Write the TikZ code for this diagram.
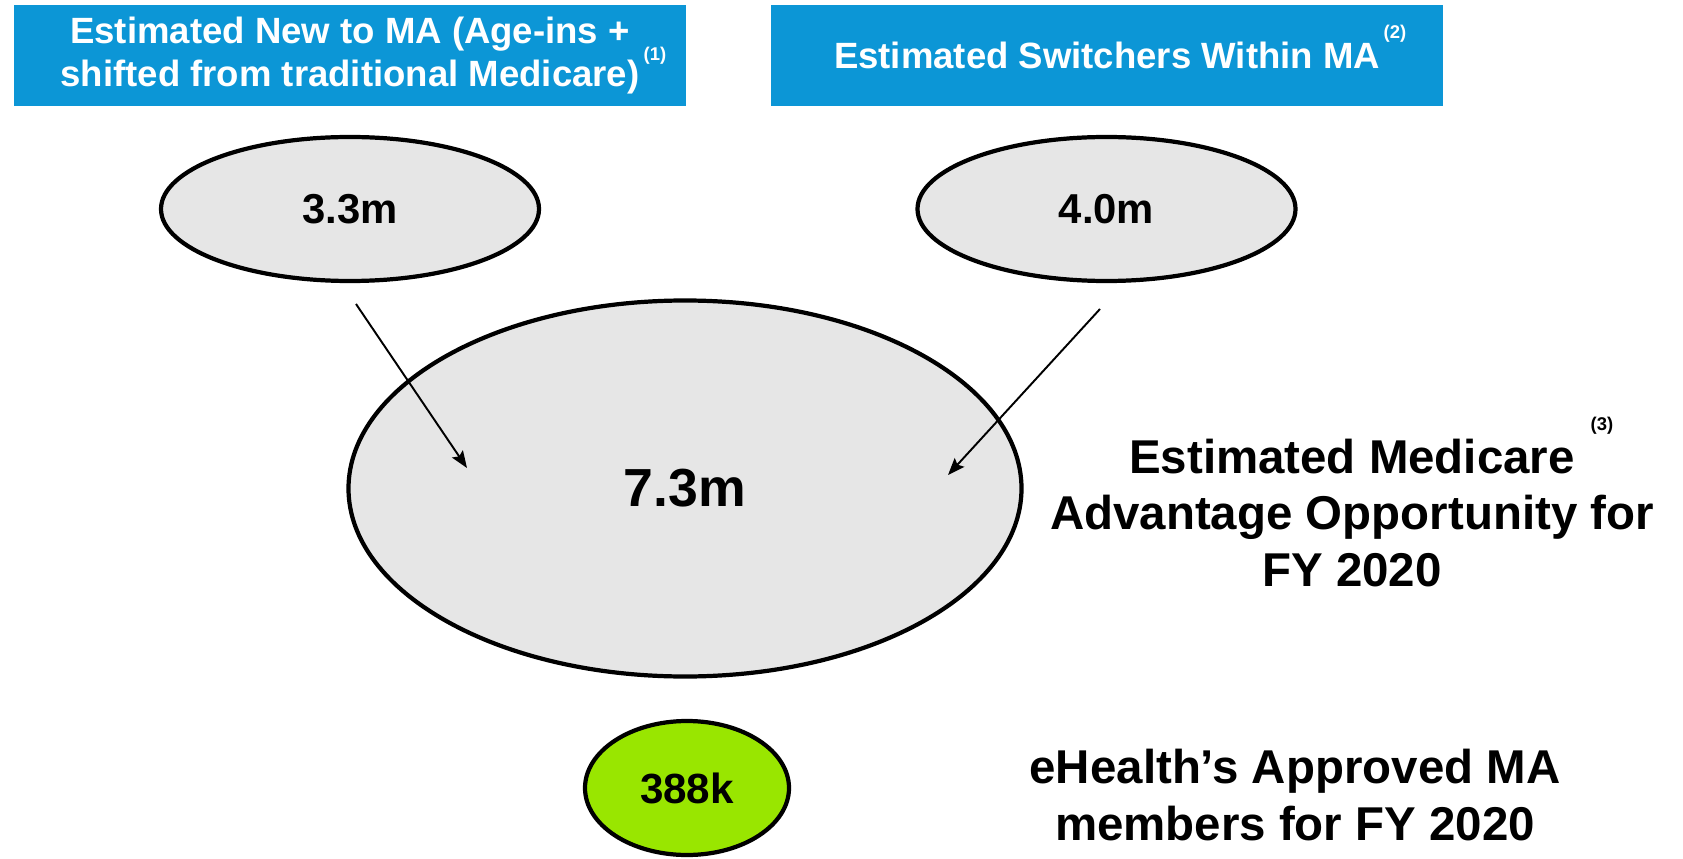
\documentclass[tikz,border=0pt]{standalone}
\usepackage{fontspec}
\setmainfont{Liberation Sans}
\usetikzlibrary{shapes.geometric,arrows.meta,positioning}
\definecolor{boxblue}{RGB}{12,150,214}
\definecolor{bubblegray}{RGB}{230,230,230}
\definecolor{limegreen}{RGB}{153,230,0}

\begin{document}
\begin{tikzpicture}[
    header/.style={rectangle, fill=boxblue, text=white, font=\bfseries\fontsize{20.8}{24.5}\selectfont, align=center, minimum width=13.44cm, minimum height=2.02cm, inner sep=0pt},
    bubble/.style={ellipse, draw, line width=2.4pt, fill=bubblegray, inner sep=0pt},
    caption/.style={font=\bfseries\fontsize{27}{32.4}\selectfont, align=center},
    note/.style={font=\bfseries\fontsize{10.5}{10.5}\selectfont, inner sep=0pt},
    arrow/.style={line width=1.1pt, -{Stealth[length=0.34cm, width=0.26cm, inset=0.06cm]}}
]
    \useasboundingbox (0,0) rectangle (33.66,-17.18);

    % Headers
    \node [header] (newbox) at (7.0,-1.11) {Estimated New to MA (Age-ins +\\shifted from traditional Medicare)};
    \node [header] (switchbox) at (22.14,-1.11) {Estimated Switchers Within MA};
    \node [note, text=white] (sup1) at (13.1,-1.12) {(1)};
    \node [note, text=white] (sup2) at (27.9,-0.68) {(2)};

    % Bubbles
    \node [bubble, minimum width=7.56cm, minimum height=2.88cm, font=\bfseries\fontsize{23.8}{27}\selectfont] (newmembers) at (7.0,-4.18) {3.3m};
    \node [bubble, minimum width=7.56cm, minimum height=2.88cm, font=\bfseries\fontsize{23.8}{27}\selectfont] (switchers) at (22.13,-4.18) {4.0m};
    \node [bubble, minimum width=13.46cm, minimum height=7.52cm, font=\bfseries\fontsize{30.5}{35}\selectfont] (total) at (13.7,-9.77) {7.3m};
    \node [bubble, fill=limegreen, minimum width=4.08cm, minimum height=2.68cm, font=\bfseries\fontsize{24}{28}\selectfont] (ehealth) at (13.74,-15.76) {388k};

    % Captions
    \node [caption] (opportunity) at (27.04,-10.26) {Estimated Medicare\\Advantage Opportunity for\\FY 2020};
    \node [note] (sup3) at (32.04,-8.52) {(3)};
    \node [caption] (approved) at (25.9,-15.9) {eHealth’s Approved MA\\members for FY 2020};

    % Arrows
    \coordinate (newstart) at (7.12,-6.08);
    \coordinate (newend) at (9.34,-9.36);
    \coordinate (switchstart) at (22.0,-6.18);
    \coordinate (switchend) at (18.96,-9.5);
    \draw [arrow] (newstart) -- (newend);
    \draw [arrow] (switchstart) -- (switchend);
\end{tikzpicture}
\end{document}
